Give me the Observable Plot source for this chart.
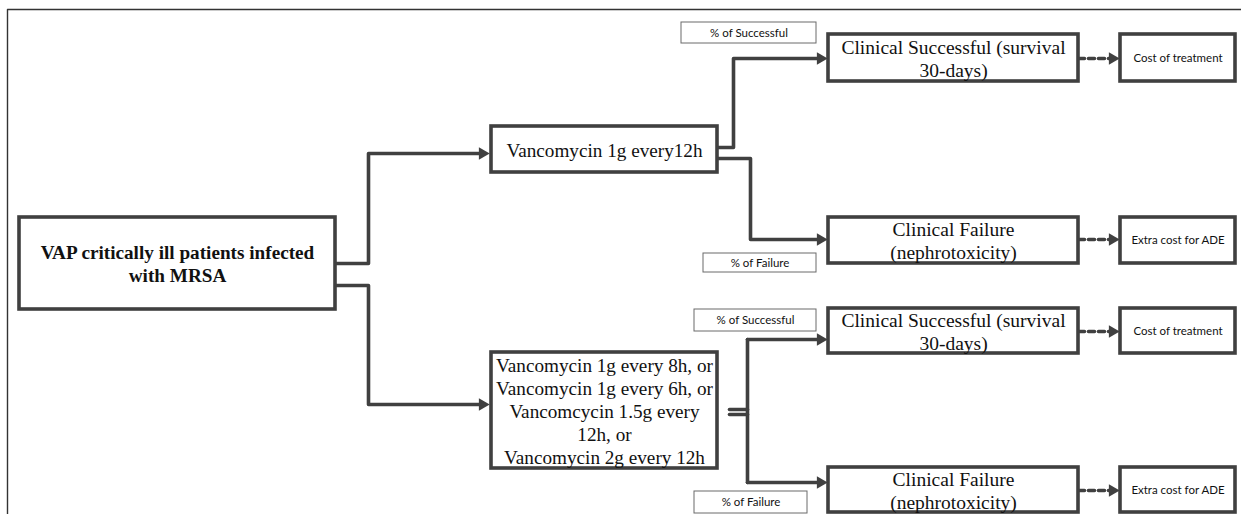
<!DOCTYPE html>
<html><head><meta charset="utf-8">
<script src="https://cdn.jsdelivr.net/npm/d3@7"></script>
<script src="https://cdn.jsdelivr.net/npm/@observablehq/plot@0.6"></script>
<style>html,body{margin:0;padding:0;background:#fff;overflow:hidden}</style>
</head><body><div id="chart"></div>
<script>
// ---- content ----
const rootLabel = "VAP critically ill patients infected\nwith MRSA";
const strategies = [
  "Vancomycin 1g every12h",
  "Vancomycin 1g every 8h, or\nVancomycin 1g every 6h, or\nVancomcycin 1.5g every\n12h, or\nVancomycin 2g every 12h"
];
const outcomes = ["Clinical Successful (survival\n30-days)", "Clinical Failure\n(nephrotoxicity)"];
const consequences = ["Cost of treatment", "Extra cost for ADE"];
const probabilities = ["% of Successful", "% of Failure"];

// ---- layout (diagram geometry) ----
const W = 1241, H = 514;
const rootBox = {x1: 19, x2: 335, y1: 217, y2: 309};
const stratBoxes = [{x1: 491, x2: 717, y1: 126, y2: 172}, {x1: 491, x2: 717, y1: 352, y2: 468}];
const outcomeY = [[[34, 81], [217, 263]], [[308, 353], [467, 512]]];
const outcomeX = [828, 1078];
const consX = [1120, 1235];
const probBoxes = [
  [{x1: 681, x2: 816, y1: 22, y2: 43}, {x1: 703, x2: 816, y1: 253, y2: 272}],
  [{x1: 694, x2: 816, y1: 309, y2: 331}, {x1: 694, x2: 807, y1: 491, y2: 513}]
];
const solidPaths = [
  [[335, 263], [368, 263], [368, 153], [482, 153]],
  [[335, 285], [368, 285], [368, 404], [482, 404]],
  [[717, 147], [733, 147], [733, 58], [820, 58]],
  [[717, 158], [750, 158], [750, 239], [820, 239]],
  [[729, 409], [747, 409]],
  [[729, 414], [747, 414]],
  [[747, 339], [747, 482]],
  [[747, 339], [820, 339]],
  [[747, 482], [820, 482]]
];
const solidTips = [[490, 153], [490, 404], [828, 58], [828, 239], [828, 339], [828, 482]];
const dashY = [58, 239, 331, 490];

// ---- build tables ----
const boxes = [{...rootBox, text: rootLabel, font: "bold"}];
strategies.forEach((s, i) => boxes.push({...stratBoxes[i], text: s}));
const outBoxes = [], consBoxes = [], labels = [];
strategies.forEach((s, i) => {
  outcomes.forEach((o, j) => {
    const [y1, y2] = outcomeY[i][j];
    outBoxes.push({x1: outcomeX[0], x2: outcomeX[1], y1, y2, text: o});
    consBoxes.push({x1: consX[0], x2: consX[1], y1, y2, text: consequences[j]});
    labels.push({...probBoxes[i][j], text: probabilities[j]});
  });
});
const solidPts = solidPaths.flatMap((p, k) => p.map(([x, y]) => ({x, y, k})));
const dashPts = dashY.flatMap((y, k) => [{x: outcomeX[1], y, k}, {x: consX[0] - 10, y, k}]);
const tips = solidTips.map(([x, y]) => ({x: x - 8, y})).concat(dashY.map(y => ({x: consX[0] - 8, y})));

const stroke = "#404040";
const sw = 3.6;
const serif = "'Liberation Serif', 'Times New Roman', serif";
const sans = "Lato, 'Open Sans', sans-serif";
const cx = d => (d.x1 + d.x2) / 2, cy = d => (d.y1 + d.y2) / 2;

const chart = Plot.plot({
  width: W, height: H, margin: 0,
  x: {domain: [0, W], range: [0, W], axis: null},
  y: {domain: [0, H], range: [0, H], axis: null},
  marks: [
    // outer frame (top and left)
    Plot.line([{x: 7, y: H}, {x: 7, y: 9}, {x: W, y: 9}], {x: "x", y: "y", stroke: "#333", strokeWidth: 1.4}),
    Plot.line(solidPts, {x: "x", y: "y", z: "k", stroke, strokeWidth: sw}),
    Plot.line(dashPts, {x: "x", y: "y", z: "k", stroke, strokeWidth: sw, strokeDasharray: "6,4"}),
    Plot.dot(tips, {x: "x", y: "y", symbol: "triangle2", r: 6, rotate: 90, fill: stroke, stroke: "none"}),
    Plot.rect(boxes, {x1: "x1", x2: "x2", y1: "y1", y2: "y2", fill: "white", stroke, strokeWidth: sw}),
    Plot.rect(outBoxes, {x1: "x1", x2: "x2", y1: "y1", y2: "y2", fill: "white", stroke, strokeWidth: sw}),
    Plot.rect(consBoxes, {x1: "x1", x2: "x2", y1: "y1", y2: "y2", fill: "white", stroke, strokeWidth: sw}),
    Plot.rect(labels, {x1: "x1", x2: "x2", y1: "y1", y2: "y2", fill: "white", stroke: "#6a6a6a", strokeWidth: 1}),
    Plot.text([boxes[0]], {x: cx, y: cy, text: "text", fontFamily: serif, fontWeight: "bold", fontSize: 19.2, lineHeight: 1.2, fill: "#111"}),
    Plot.text(boxes.slice(1), {x: cx, y: cy, text: "text", fontFamily: serif, fontSize: 19.2, lineHeight: 1.2, fill: "#111"}),
    Plot.text(outBoxes, {x: cx, y: cy, text: "text", fontFamily: serif, fontSize: 19.5, lineHeight: 1.18, fill: "#111"}),
    Plot.text(consBoxes, {x: cx, y: cy, text: "text", fontFamily: sans, fontSize: 11.5, fill: "#111"}),
    Plot.text(labels, {x: cx, y: cy, text: "text", fontFamily: sans, fontSize: 11.5, fill: "#111"})
  ]
});
document.getElementById("chart").appendChild(chart);
</script>
</body></html>
